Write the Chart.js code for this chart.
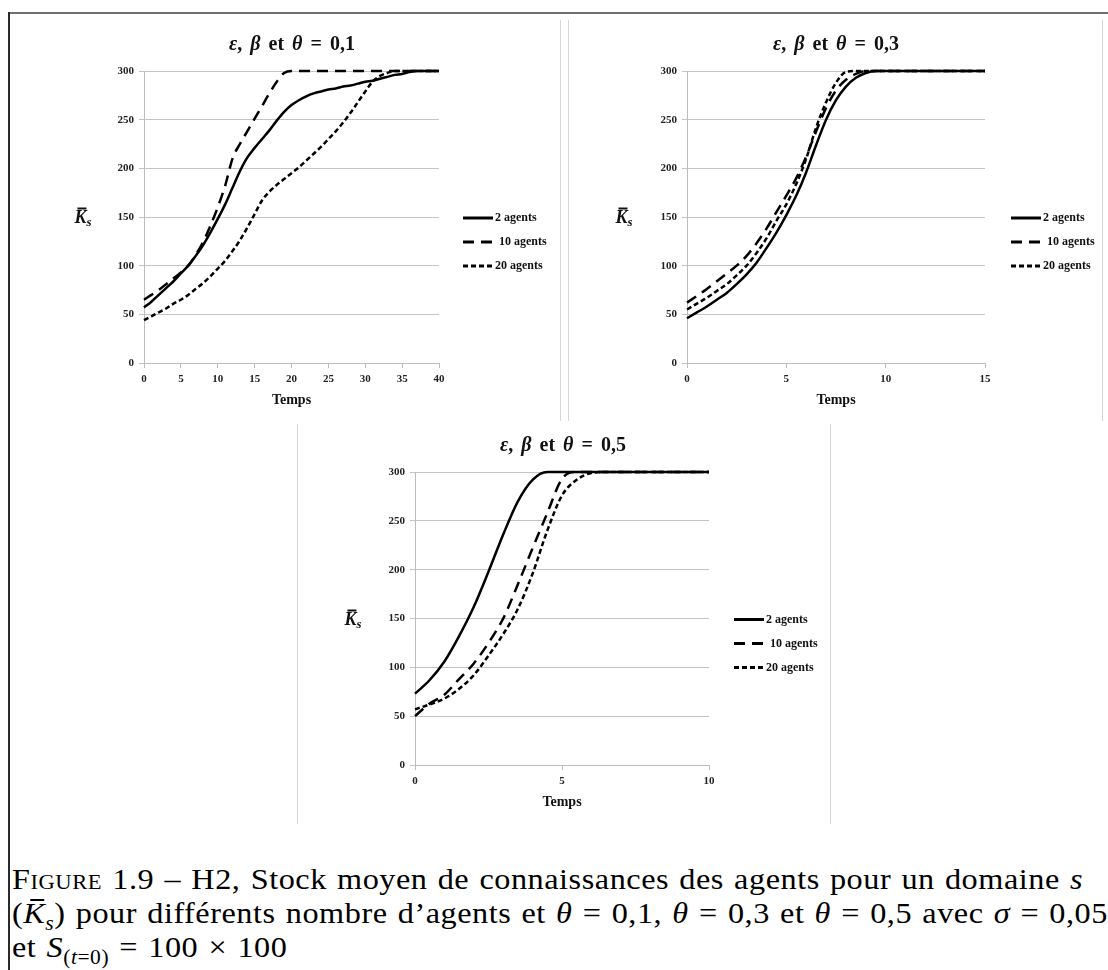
<!DOCTYPE html>
<html lang="fr">
<head>
<meta charset="utf-8">
<title>Stock moyen de connaissances</title>
<script src="https://cdn.jsdelivr.net/npm/chart.js@4.4.1/dist/chart.umd.min.js"></script>
<style>
  html, body { margin: 0; padding: 0; background: #fff; }
  body { width: 1108px; height: 970px; position: relative; overflow: hidden; font-family: "Liberation Serif", "DejaVu Serif", serif; color: #000; }
  .border-top { position: absolute; left: 8px; top: 12px; width: 1100px; height: 2px; background: #707070; }
  .border-left { position: absolute; left: 8px; top: 12px; width: 2px; height: 958px; background: #2a2a2a; }
  .frame { position: absolute; width: 1px; background: #d6d6d6; }
  .panel { position: absolute; }
  .panel canvas { position: absolute; left: 0; top: 0; }
  .ptitle { position: absolute; font: bold 20px "Liberation Serif", serif; word-spacing: 3px; white-space: nowrap; transform: translate(-50%, -50%); color: #111; }
  .ylab { position: absolute; font: bold italic 18px "Liberation Serif", serif; white-space: nowrap; transform: translate(-50%, -50%); color: #111; }
  .ylab sub { font-size: 13px; vertical-align: -3px; }
  .kbar { position: relative; display: inline-block; }
  .kbar::before { content: ""; position: absolute; left: 3px; right: 0px; top: 1px; height: 1.7px; background: #111; }
  #caption { position: absolute; left: 12px; top: 862px; font-size: 30px; line-height: 34px; letter-spacing: 0.5px; word-spacing: 1.5px; white-space: nowrap; transform: scaleX(1.075); transform-origin: 0 0; }
  #caption > div { height: 34px; }
  #caption .sc { font-variant: small-caps; }
  #caption sub { font-size: 20px; vertical-align: -7px; line-height: 0; }
  .capbar { position: relative; display: inline-block; }
  .capbar::before { content: ""; position: absolute; left: 6px; right: 1px; top: 3px; height: 1.6px; background: #000; }
</style>
</head>
<body>
<div class="border-top"></div>
<div class="border-left"></div>

<div class="frame" style="left:560px; top:20px; height:401px;"></div>
<div class="frame" style="left:568px; top:20px; height:401px;"></div>
<div class="frame" style="left:1102px; top:20px; height:401px;"></div>
<div class="frame" style="left:297px; top:424px; height:400px;"></div>
<div class="frame" style="left:830px; top:424px; height:400px;"></div>

<div class="panel" style="left:10px; top:20px; width:550px; height:400px;"><canvas id="chartA" width="550" height="400"></canvas></div>
<div class="panel" style="left:568px; top:20px; width:534px; height:400px;"><canvas id="chartB" width="534" height="400"></canvas></div>
<div class="panel" style="left:297px; top:425px; width:533px; height:397px;"><canvas id="chartC" width="533" height="397"></canvas></div>

<div class="ptitle" style="left:292px; top:43px;"><i>ε</i>, <i>β</i> et <i>θ</i> = 0,1</div>
<div class="ptitle" style="left:836px; top:43px;"><i>ε</i>, <i>β</i> et <i>θ</i> = 0,3</div>
<div class="ptitle" style="left:563px; top:444px;"><i>ε</i>, <i>β</i> et <i>θ</i> = 0,5</div>

<div class="ylab" style="left:83px; top:218px;"><span class="kbar">K</span><sub>s</sub></div>
<div class="ylab" style="left:624px; top:218px;"><span class="kbar">K</span><sub>s</sub></div>
<div class="ylab" style="left:353px; top:620px;"><span class="kbar">K</span><sub>s</sub></div>

<div id="caption">
  <div><span class="sc">Figure</span> 1.9 –  H2, Stock moyen de connaissances des agents pour un domaine <i>s</i></div>
  <div>(<i class="capbar">K</i><sub><i>s</i></sub>) pour différents nombre d’agents et <i>θ</i> = 0,1, <i>θ</i> = 0,3 et <i>θ</i> = 0,5 avec <i>σ</i> = 0,05</div>
  <div>et <i>S</i><sub>(<i>t</i>=0)</sub> = 100 × 100</div>
</div>

<script>
// ---- θ = 0,1 : time steps 0..40
const tempsA = [0,1,2,3,4,5,6,7,8,9,10,11,12,13,14,15,16,17,18,19,20,21,22,23,24,25,26,27,28,29,30,31,32,33,34,35,36,37,38,39,40];
const agents2A  = [57,63,70,77,84,92,100,110,121,134,148,163,180,197,211,221,230,239,249,258,265,270,274,277,279,281,282,284,285,287,289,290,292,294,296,297,299,300,300,300,300];
const agents10A = [65,70,75,81,87,93,100,111,124,141,160,182,210,225,238,251,264,277,289,298,300,300,300,300,300,300,300,300,300,300,300,300,300,300,300,300,300,300,300,300,300];
const agents20A = [44,48,52,56,61,65,70,76,82,89,97,105,115,126,139,153,167,176,183,189,195,201,208,215,222,230,238,247,257,268,279,289,295,298,300,300,300,300,300,300,300];

// ---- θ = 0,3 : time steps 0..15
const tempsB    = [0,0.5,1,1.5,2,2.5,3,3.5,4,4.5,5,5.5,6,6.5,7,7.5,8,8.5,9,9.5,10,15];
const agents2B  = [46,52,58,65,72,81,91,103,118,134,152,172,196,224,250,270,284,293,298,300,300,300];
const agents10B = [62,69,76,84,92,100,110,123,138,155,172,190,212,238,262,280,291,297,300,300,300,300];
const agents20B = [55,61,67,74,81,90,100,113,128,146,163,184,210,242,268,288,299,300,300,300,300,300];

// ---- θ = 0,5 : time steps 0..10
const tempsC    = [0,0.5,1,1.5,2,2.5,3,3.5,4,4.5,5,5.5,6,6.5,10];
const agents2C  = [73,87,106,132,162,198,236,270,292,300,300,300,300,300,300];
const agents10C = [50,63,72,88,104,125,150,185,222,258,293,300,300,300,300];
const agents20C = [57,62,68,78,92,112,134,160,196,240,276,292,299,300,300];

const seriesNames = ['2 agents', '10 agents', '20 agents'];
const yTicks = [0, 50, 100, 150, 200, 250, 300];

const dashes = [[], [11, 7], [5, 3]];
const tickFont = { family: '"Liberation Serif", serif', size: 11, weight: 'bold' };

// Legend drawn to the right of the plot, using each dataset's own stroke style
const sideLegend = {
  id: 'sideLegend',
  afterDraw(chart, args, opts) {
    const { ctx, chartArea } = chart;
    const x0 = chartArea.right + opts.gap;
    const yMid = (chartArea.top + chartArea.bottom) / 2 + opts.shift;
    ctx.save();
    chart.data.datasets.forEach((ds, i) => {
      const y = yMid + (i - 1) * opts.rowGap;
      ctx.beginPath();
      ctx.setLineDash(ds.borderDash || []);
      ctx.lineWidth = 3;
      ctx.strokeStyle = ds.borderColor;
      ctx.moveTo(x0, y);
      ctx.lineTo(x0 + opts.lineLen, y);
      ctx.stroke();
      ctx.setLineDash([]);
      ctx.fillStyle = '#111';
      ctx.font = 'bold 12px "Liberation Serif", serif';
      ctx.textAlign = 'left';
      ctx.textBaseline = 'middle';
      ctx.fillText(ds.label, x0 + opts.lineLen + opts.textGap[i], y);
    });
    ctx.restore();
  }
};

function makeChart(id, xs, ys, xMax, cfg) {
  const datasets = ys.map((vals, i) => ({
    label: seriesNames[i],
    data: xs.map((x, k) => ({ x: x, y: vals[k] })),
    borderColor: '#000',
    borderWidth: 2.5,
    borderDash: dashes[i],
    pointRadius: 0,
    cubicInterpolationMode: 'monotone',
    fill: false,
    clip: 4
  }));
  return new Chart(document.getElementById(id), {
    type: 'line',
    data: { datasets },
    plugins: [sideLegend],
    options: {
      responsive: false,
      animation: false,
      events: [],
      layout: { padding: { top: cfg.top, right: cfg.right, left: 0, bottom: 0 } },
      plugins: {
        legend: { display: false },
        tooltip: { enabled: false },
        title: { display: false },
        sideLegend: { gap: cfg.legendGap, shift: 25, rowGap: 24, lineLen: 30, textGap: [2, 6, 2] }
      },
      scales: {
        x: {
          type: 'linear',
          min: 0,
          max: xMax,
          afterFit: s => { s.height = cfg.xHeight; },
          afterBuildTicks: s => { s.ticks = []; for (let v = 0; v <= xMax; v += 5) s.ticks.push({ value: v }); },
          ticks: { font: tickFont, color: '#222', padding: 5, maxRotation: 0, autoSkip: false },
          grid: { drawOnChartArea: false, drawTicks: true, tickLength: 5, color: '#bdbdbd', lineWidth: 1 },
          border: { display: true, color: '#bdbdbd', width: 1 },
          title: { display: true, text: 'Temps', font: { family: '"Liberation Serif", serif', size: 14, weight: 'bold' }, color: '#111', padding: { top: 0, bottom: 11 } }
        },
        y: {
          min: 0,
          max: 300,
          afterFit: s => { s.width = cfg.yWidth; },
          afterBuildTicks: s => { s.ticks = yTicks.map(v => ({ value: v })); },
          ticks: { font: tickFont, color: '#222', padding: 5 },
          grid: { drawTicks: true, tickLength: 5, color: '#c4c4c4', lineWidth: 1 },
          border: { display: true, color: '#bdbdbd', width: 1 }
        }
      }
    }
  });
}

makeChart('chartA', tempsA, [agents2A, agents10A, agents20A], 40,
  { top: 51, right: 121, yWidth: 134, xHeight: 57, legendGap: 24 });
makeChart('chartB', tempsB, [agents2B, agents10B, agents20B], 15,
  { top: 51, right: 117, yWidth: 119, xHeight: 57, legendGap: 26 });
makeChart('chartC', tempsC, [agents2C, agents10C, agents20C], 10,
  { top: 47, right: 121, yWidth: 118, xHeight: 57, legendGap: 25 });
</script>
</body>
</html>
